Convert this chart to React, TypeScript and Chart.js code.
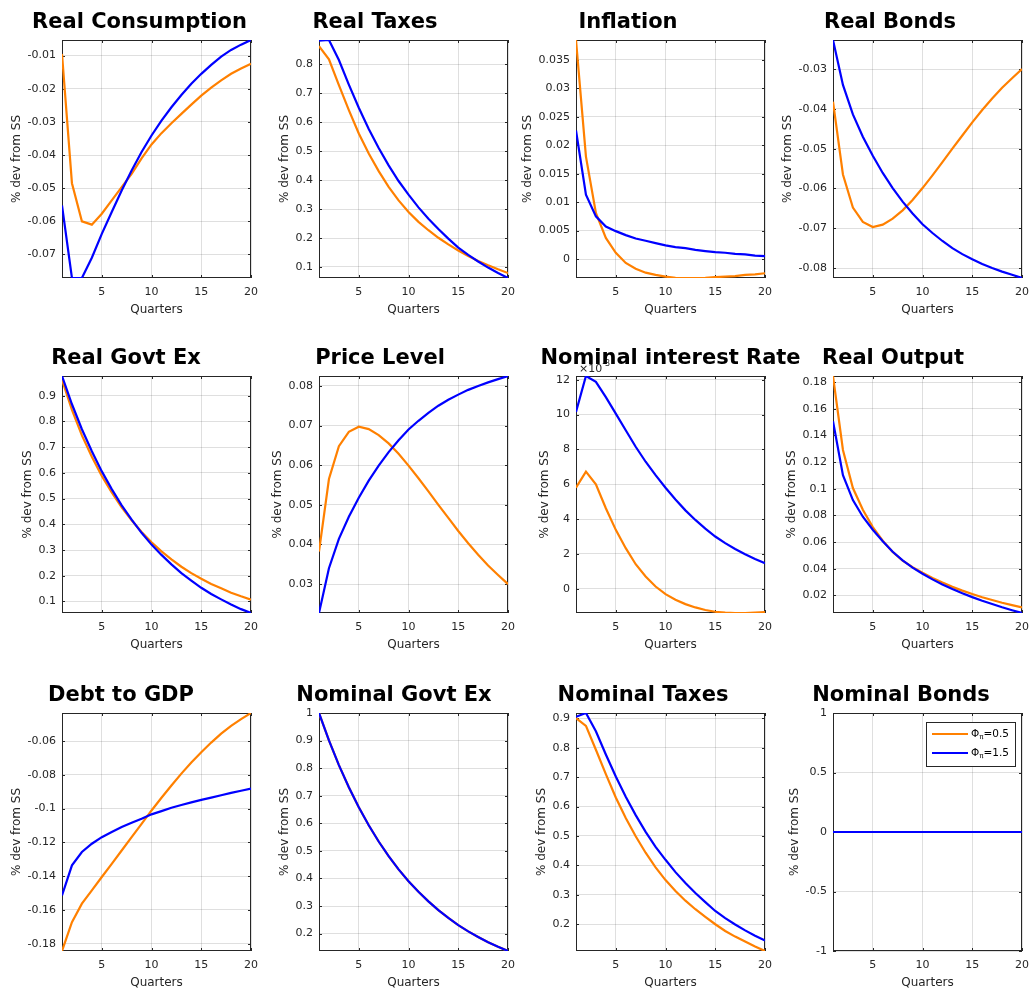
import { useEffect, useRef } from "react";
import { Chart, registerables } from "chart.js";

Chart.register(...registerables);

// Horizon after the shock
const quarters = [1, 2, 3, 4, 5, 6, 7, 8, 9, 10, 11, 12, 13, 14, 15, 16, 17, 18, 19, 20];
const xTickValues = [5, 10, 15, 20];

// Inflation coefficient of the policy rule for the two runs, and their colours
const phiPi = [0.5, 1.5];
const seriesColors = ["#FF8000", "#0000FF"];

const panelTitles = [
  "Real Consumption",
  "Real Taxes",
  "Inflation",
  "Real Bonds",
  "Real Govt Ex",
  "Price Level",
  "Nominal interest Rate",
  "Real Output",
  "Debt to GDP",
  "Nominal Govt Ex",
  "Nominal Taxes",
  "Nominal Bonds",
];

// Impulse responses, % deviation from steady state (Passive: Φπ=0.5, Active: Φπ=1.5)
const realConsumptionPassive = [-0.0095, -0.0485, -0.06, -0.061, -0.0577, -0.0537, -0.0497, -0.0457, -0.041, -0.0368, -0.0334, -0.0304, -0.0276, -0.0248, -0.0221, -0.0197, -0.0175, -0.0155, -0.0139, -0.0125];
const realConsumptionActive = [-0.0552, -0.0771, -0.0771, -0.071, -0.0638, -0.0572, -0.0507, -0.0447, -0.0391, -0.0341, -0.0296, -0.0256, -0.0219, -0.0185, -0.0155, -0.0128, -0.0103, -0.0083, -0.0067, -0.0053];

const realTaxesPassive = [0.863, 0.817, 0.728, 0.642, 0.561, 0.492, 0.431, 0.377, 0.33, 0.29, 0.256, 0.227, 0.201, 0.178, 0.157, 0.138, 0.121, 0.106, 0.092, 0.079];
const realTaxesActive = [0.882, 0.884, 0.815, 0.73, 0.65, 0.577, 0.511, 0.451, 0.397, 0.35, 0.306, 0.267, 0.231, 0.198, 0.167, 0.142, 0.119, 0.098, 0.079, 0.062];

const inflationPassive = [0.0385, 0.018, 0.0081, 0.0037, 0.0011, -0.0007, -0.0017, -0.0024, -0.0028, -0.0031, -0.0033, -0.00334, -0.00334, -0.0033, -0.0032, -0.0031, -0.003, -0.0028, -0.0027, -0.0025];
const inflationActive = [0.0226, 0.0113, 0.0075, 0.0057, 0.0049, 0.0042, 0.0036, 0.0032, 0.0028, 0.0024, 0.0021, 0.0019, 0.0016, 0.0014, 0.0012, 0.0011, 0.0009, 0.0008, 0.0006, 0.0005];

const realBondsPassive = [-0.0382, -0.0565, -0.0648, -0.0684, -0.0697, -0.0691, -0.0676, -0.0655, -0.0629, -0.0599, -0.0567, -0.0534, -0.05, -0.0467, -0.0434, -0.0403, -0.0374, -0.0347, -0.0323, -0.03];
const realBondsActive = [-0.0227, -0.034, -0.0414, -0.047, -0.0518, -0.0561, -0.0599, -0.0633, -0.0663, -0.069, -0.0712, -0.0732, -0.075, -0.0765, -0.0778, -0.079, -0.08, -0.0809, -0.0817, -0.0825];

const realGovtExPassive = [0.962, 0.845, 0.746, 0.663, 0.588, 0.524, 0.466, 0.416, 0.37, 0.33, 0.295, 0.264, 0.235, 0.21, 0.188, 0.168, 0.151, 0.134, 0.12, 0.107];
const realGovtExActive = [0.977, 0.867, 0.77, 0.684, 0.606, 0.537, 0.474, 0.418, 0.367, 0.321, 0.281, 0.244, 0.21, 0.181, 0.153, 0.129, 0.108, 0.088, 0.07, 0.055];

const priceLevelPassive = [0.0382, 0.0565, 0.0648, 0.0684, 0.0697, 0.0691, 0.0676, 0.0655, 0.0629, 0.0599, 0.0567, 0.0534, 0.05, 0.0467, 0.0434, 0.0403, 0.0374, 0.0347, 0.0323, 0.03];
const priceLevelActive = [0.0227, 0.034, 0.0414, 0.047, 0.0518, 0.0561, 0.0599, 0.0633, 0.0663, 0.069, 0.0712, 0.0732, 0.075, 0.0765, 0.0778, 0.079, 0.08, 0.0809, 0.0817, 0.0825];

// Nominal interest rate in units of 10^-3
const nominalRatePassive = [5.8, 6.72, 5.99, 4.62, 3.38, 2.33, 1.41, 0.71, 0.13, -0.31, -0.63, -0.88, -1.07, -1.22, -1.32, -1.37, -1.39, -1.39, -1.37, -1.34];
const nominalRateActive = [10.15, 12.21, 11.87, 11.0, 10.05, 9.1, 8.15, 7.29, 6.52, 5.8, 5.12, 4.5, 3.95, 3.45, 3.0, 2.62, 2.28, 1.98, 1.71, 1.47];

const realOutputPassive = [0.1845, 0.129, 0.1005, 0.0842, 0.0712, 0.061, 0.0526, 0.046, 0.0412, 0.037, 0.0331, 0.0296, 0.0264, 0.0236, 0.021, 0.0186, 0.0165, 0.0145, 0.0127, 0.011];
const realOutputActive = [0.1506, 0.1102, 0.0915, 0.079, 0.0692, 0.0606, 0.0527, 0.0462, 0.0408, 0.0362, 0.032, 0.0282, 0.0248, 0.0216, 0.0187, 0.016, 0.0135, 0.0111, 0.0089, 0.0068];

const debtToGdpPassive = [-0.1843, -0.1672, -0.1563, -0.1484, -0.1405, -0.1327, -0.1248, -0.1169, -0.109, -0.1011, -0.0936, -0.0863, -0.0793, -0.0727, -0.0666, -0.0609, -0.0556, -0.051, -0.047, -0.0434];
const debtToGdpActive = [-0.1514, -0.1336, -0.1257, -0.1208, -0.1169, -0.1139, -0.1109, -0.1084, -0.106, -0.1034, -0.1015, -0.0995, -0.0979, -0.0963, -0.0948, -0.0935, -0.0921, -0.0907, -0.0894, -0.0882];

const nominalGovtExPassive = [1.0, 0.901, 0.811, 0.731, 0.658, 0.593, 0.534, 0.481, 0.433, 0.39, 0.352, 0.317, 0.285, 0.257, 0.231, 0.208, 0.188, 0.169, 0.152, 0.137];
const nominalGovtExActive = [1.0, 0.901, 0.811, 0.731, 0.658, 0.593, 0.534, 0.481, 0.433, 0.39, 0.352, 0.317, 0.285, 0.257, 0.231, 0.208, 0.188, 0.169, 0.152, 0.137];

const nominalTaxesPassive = [0.901, 0.874, 0.793, 0.71, 0.631, 0.561, 0.499, 0.443, 0.393, 0.35, 0.313, 0.28, 0.251, 0.225, 0.2, 0.177, 0.158, 0.141, 0.124, 0.109];
const nominalTaxesActive = [0.905, 0.918, 0.856, 0.777, 0.702, 0.633, 0.571, 0.514, 0.463, 0.419, 0.377, 0.34, 0.306, 0.275, 0.245, 0.221, 0.199, 0.179, 0.161, 0.145];

const nominalBondsPassive = [0, 0, 0, 0, 0, 0, 0, 0, 0, 0, 0, 0, 0, 0, 0, 0, 0, 0, 0, 0];
const nominalBondsActive = [0, 0, 0, 0, 0, 0, 0, 0, 0, 0, 0, 0, 0, 0, 0, 0, 0, 0, 0, 0];
const nominalBondsLimits = [-1, 1];

// Y tick values per panel
const realConsumptionTicks = [-0.07, -0.06, -0.05, -0.04, -0.03, -0.02, -0.01];
const realTaxesTicks = [0.1, 0.2, 0.3, 0.4, 0.5, 0.6, 0.7, 0.8];
const inflationTicks = [0, 0.005, 0.01, 0.015, 0.02, 0.025, 0.03, 0.035];
const realBondsTicks = [-0.08, -0.07, -0.06, -0.05, -0.04, -0.03];
const realGovtExTicks = [0.1, 0.2, 0.3, 0.4, 0.5, 0.6, 0.7, 0.8, 0.9];
const priceLevelTicks = [0.03, 0.04, 0.05, 0.06, 0.07, 0.08];
const nominalRateTicks = [0, 2, 4, 6, 8, 10, 12];
const realOutputTicks = [0.02, 0.04, 0.06, 0.08, 0.1, 0.12, 0.14, 0.16, 0.18];
const debtToGdpTicks = [-0.18, -0.16, -0.14, -0.12, -0.1, -0.08, -0.06];
const nominalGovtExTicks = [0.2, 0.3, 0.4, 0.5, 0.6, 0.7, 0.8, 0.9, 1];
const nominalTaxesTicks = [0.2, 0.3, 0.4, 0.5, 0.6, 0.7, 0.8, 0.9];
const nominalBondsTicks = [-1, -0.5, 0, 0.5, 1];

type PanelSpec = {
  title: string;
  passive: number[];
  active: number[];
  ticks: number[];
  limits?: number[];
  exponent?: string;
  legend?: boolean;
};

const panels: PanelSpec[] = [
  { title: panelTitles[0], passive: realConsumptionPassive, active: realConsumptionActive, ticks: realConsumptionTicks },
  { title: panelTitles[1], passive: realTaxesPassive, active: realTaxesActive, ticks: realTaxesTicks },
  { title: panelTitles[2], passive: inflationPassive, active: inflationActive, ticks: inflationTicks },
  { title: panelTitles[3], passive: realBondsPassive, active: realBondsActive, ticks: realBondsTicks },
  { title: panelTitles[4], passive: realGovtExPassive, active: realGovtExActive, ticks: realGovtExTicks },
  { title: panelTitles[5], passive: priceLevelPassive, active: priceLevelActive, ticks: priceLevelTicks },
  { title: panelTitles[6], passive: nominalRatePassive, active: nominalRateActive, ticks: nominalRateTicks, exponent: "-3" },
  { title: panelTitles[7], passive: realOutputPassive, active: realOutputActive, ticks: realOutputTicks },
  { title: panelTitles[8], passive: debtToGdpPassive, active: debtToGdpActive, ticks: debtToGdpTicks },
  { title: panelTitles[9], passive: nominalGovtExPassive, active: nominalGovtExActive, ticks: nominalGovtExTicks },
  { title: panelTitles[10], passive: nominalTaxesPassive, active: nominalTaxesActive, ticks: nominalTaxesTicks },
  { title: panelTitles[11], passive: nominalBondsPassive, active: nominalBondsActive, ticks: nominalBondsTicks, limits: nominalBondsLimits, legend: true },
];

// Page layout of the 3 x 4 grid of axes
const CANVAS_W = 300;
const CANVAS_H = 320;
const AXIS_LEFT = 62;
const AXIS_TOP = 40;
const PLOT_W = 189;
const colLefts = [62, 319, 576, 833];
const rowTops = [40, 376, 713];
const rowBottoms = [278, 613, 951];
// Title centres measured from each plot's left edge
const titleCenters = [77.5, 56, 52, 57, 64, 61, 94.5, 60, 59, 75, 67, 68];
const yTickPadding = 6;

const FONT = '"DejaVu Sans", "Liberation Sans", sans-serif';
const AXIS_COLOR = "#262626";
const GRID_COLOR = "rgba(38,38,38,0.15)";
const TICK_LEN = 3;
const LINE_WIDTH = 2.2;

const fmt = (v: number) => String(Number(v.toFixed(6)));

const panelDecor = {
  id: "panelDecor",
  beforeDatasetsDraw(chart: any) {
    const { ctx, chartArea: a } = chart;
    const xs = chart.scales.x;
    const ys = chart.scales.y;
    ctx.save();
    ctx.strokeStyle = AXIS_COLOR;
    ctx.lineWidth = 1;
    ctx.beginPath();
    xs.ticks.forEach((t: any) => {
      const p = Math.round(xs.getPixelForValue(t.value)) + 0.5;
      ctx.moveTo(p, a.bottom);
      ctx.lineTo(p, a.bottom - TICK_LEN);
      ctx.moveTo(p, a.top);
      ctx.lineTo(p, a.top + TICK_LEN);
    });
    ys.ticks.forEach((t: any) => {
      const p = Math.round(ys.getPixelForValue(t.value)) + 0.5;
      ctx.moveTo(a.left, p);
      ctx.lineTo(a.left + TICK_LEN, p);
      ctx.moveTo(a.right, p);
      ctx.lineTo(a.right - TICK_LEN, p);
    });
    ctx.stroke();
    ctx.strokeRect(a.left + 0.5, a.top + 0.5, a.right - a.left - 1, a.bottom - a.top - 1);
    ctx.restore();
  },
  afterDraw(chart: any, _args: any, opts: any) {
    const { ctx, chartArea: a } = chart;
    const ys = chart.scales.y;
    ctx.save();

    // y-axis label, placed left of the widest tick label
    ctx.font = `11px ${FONT}`;
    let maxW = 0;
    ys.ticks.forEach((t: any) => {
      maxW = Math.max(maxW, ctx.measureText(String(t.label)).width);
    });
    const ylx = a.left - yTickPadding - maxW - 11;
    ctx.fillStyle = AXIS_COLOR;
    ctx.font = `12px ${FONT}`;
    ctx.textAlign = "center";
    ctx.textBaseline = "middle";
    ctx.save();
    ctx.translate(ylx, (a.top + a.bottom) / 2);
    ctx.rotate(-Math.PI / 2);
    ctx.fillText("% dev from SS", 0, 0);
    ctx.restore();

    // x-axis label
    ctx.fillText("Quarters", (a.left + a.right) / 2, a.bottom + 32);

    // exponent of the y axis
    if (opts.exponent) {
      ctx.textAlign = "left";
      ctx.textBaseline = "alphabetic";
      ctx.font = `11px ${FONT}`;
      const ex = a.left + 3;
      const ey = a.top - 4;
      ctx.fillText("\u00d710", ex, ey);
      const w = ctx.measureText("\u00d710").width;
      ctx.font = `8px ${FONT}`;
      ctx.fillText(opts.exponent, ex + w, ey - 6);
    }

    // panel title
    ctx.fillStyle = "#000";
    ctx.font = `bold 21px ${FONT}`;
    ctx.textAlign = "center";
    ctx.textBaseline = "alphabetic";
    ctx.fillText(opts.title, a.left + opts.titleCenter, a.top - 12.5);

    // legend
    if (opts.legend) {
      const bw = 89;
      const bh = 44;
      const bx = a.right - 7 - bw;
      const by = a.top + 9;
      ctx.fillStyle = "#fff";
      ctx.fillRect(bx, by, bw, bh);
      ctx.strokeStyle = AXIS_COLOR;
      ctx.lineWidth = 1;
      ctx.strokeRect(bx + 0.5, by + 0.5, bw, bh);
      phiPi.forEach((phi, i) => {
        const y = by + 12 + i * 19;
        ctx.strokeStyle = seriesColors[i];
        ctx.lineWidth = LINE_WIDTH;
        ctx.beginPath();
        ctx.moveTo(bx + 6, y);
        ctx.lineTo(bx + 42, y);
        ctx.stroke();
        ctx.fillStyle = "#000";
        ctx.textAlign = "left";
        ctx.textBaseline = "middle";
        let tx = bx + 45;
        ctx.font = `10.5px ${FONT}`;
        ctx.fillText("\u03a6", tx, y);
        tx += ctx.measureText("\u03a6").width;
        ctx.font = `7px ${FONT}`;
        ctx.fillText("\u03c0", tx, y + 3);
        tx += ctx.measureText("\u03c0").width;
        ctx.font = `10.5px ${FONT}`;
        ctx.fillText("=" + fmt(phi), tx, y);
      });
    }
    ctx.restore();
  },
};

function Panel({ spec, index }: { spec: PanelSpec; index: number }) {
  const ref = useRef<HTMLCanvasElement>(null);
  const row = Math.floor(index / 4);
  const col = index % 4;
  const canvasLeft = colLefts[col] - AXIS_LEFT;
  const canvasTop = rowTops[row] - AXIS_TOP;

  useEffect(() => {
    if (!ref.current) return;
    const plotBottom = rowBottoms[row] - canvasTop;
    const all = spec.passive.concat(spec.active);
    const yMin = spec.limits ? spec.limits[0] : Math.min(...all);
    const yMax = spec.limits ? spec.limits[1] : Math.max(...all);
    const series = [spec.passive, spec.active];

    const chart = new Chart(ref.current, {
      type: "line",
      data: {
        datasets: series.map((vals, i) => ({
          label: "\u03a6\u03c0=" + fmt(phiPi[i]),
          data: quarters.map((q, k) => ({ x: q, y: vals[k] })),
          borderColor: seriesColors[i],
          backgroundColor: seriesColors[i],
          borderWidth: LINE_WIDTH,
          pointRadius: 0,
          tension: 0,
          fill: false,
          // the second run is painted over the first
          order: series.length - i,
        })),
      },
      options: {
        animation: false,
        responsive: false,
        devicePixelRatio: 1,
        layout: {
          padding: { left: 0, top: AXIS_TOP, right: CANVAS_W - AXIS_LEFT - PLOT_W, bottom: 0 },
        },
        plugins: {
          legend: { display: false },
          tooltip: { enabled: false },
          title: { display: false },
          panelDecor: {
            title: spec.title,
            titleCenter: titleCenters[index],
            exponent: spec.exponent,
            legend: !!spec.legend,
          },
        } as any,
        scales: {
          x: {
            type: "linear",
            position: "bottom",
            min: quarters[0],
            max: quarters[quarters.length - 1],
            bounds: "data",
            afterBuildTicks: (s: any) => {
              s.ticks = xTickValues.map((v) => ({ value: v }));
            },
            afterFit: (s: any) => {
              s.height = CANVAS_H - plotBottom;
              s.paddingLeft = 0;
              s.paddingRight = 0;
            },
            grid: { color: GRID_COLOR, lineWidth: 1, drawTicks: false },
            border: { display: false },
            ticks: {
              padding: 8,
              color: AXIS_COLOR,
              font: { family: FONT, size: 11 },
              maxRotation: 0,
              autoSkip: false,
              callback: (v: any) => fmt(Number(v)),
            },
          },
          y: {
            type: "linear",
            min: yMin,
            max: yMax,
            bounds: "data",
            afterBuildTicks: (s: any) => {
              s.ticks = spec.ticks
                .filter((v) => v >= yMin - 1e-9 && v <= yMax + 1e-9)
                .map((v) => ({ value: v }));
            },
            afterFit: (s: any) => {
              s.width = AXIS_LEFT;
              s.paddingTop = 0;
              s.paddingBottom = 0;
            },
            grid: { color: GRID_COLOR, lineWidth: 1, drawTicks: false },
            border: { display: false },
            ticks: {
              padding: yTickPadding,
              color: AXIS_COLOR,
              font: { family: FONT, size: 11 },
              autoSkip: false,
              callback: (v: any) => fmt(Number(v)),
            },
          },
        } as any,
      },
      plugins: [panelDecor as any],
    });
    return () => chart.destroy();
  }, [spec, index]);

  return (
    <canvas
      ref={ref}
      width={CANVAS_W}
      height={CANVAS_H}
      style={{ position: "absolute", left: canvasLeft, top: canvasTop, width: CANVAS_W, height: CANVAS_H }}
    />
  );
}

export default function App() {
  return (
    <div
      style={{
        position: "absolute",
        left: 0,
        top: 0,
        width: 1029,
        height: 992,
        overflow: "hidden",
        background: "#fff",
      }}
    >
      {panels.map((p, i) => (
        <Panel key={i} spec={p} index={i} />
      ))}
    </div>
  );
}
